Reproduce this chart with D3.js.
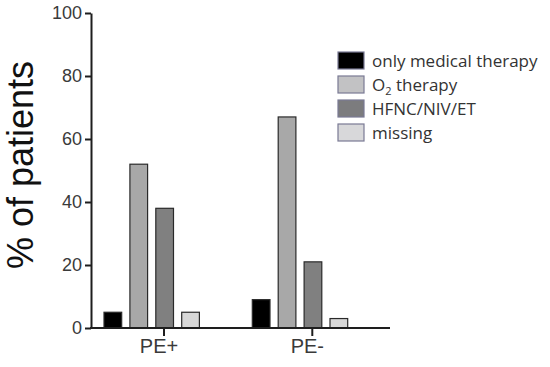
<!doctype html>
<html lang="en">
<head>
  <meta charset="utf-8">
  <title>% of patients</title>
  <script src="https://d3js.org/d3.v7.min.js"></script>
  <style>
    body { margin: 0; background: #fff; }
  </style>
</head>
<body>
  <svg width="550" height="367"></svg>
  <script>
    var groups = ["PE+", "PE-"];
    var series = ["only medical therapy", "O2 therapy", "HFNC/NIV/ET", "missing"];
    var pePlus = [5, 52, 38, 5];
    var peMinus = [9, 67, 21, 3];
    var yTicks = [0, 20, 40, 60, 80, 100];
    var colors = ["#000000", "#a8a8a8", "#808080", "#d8d8d8"];
    var legendFill = ["#000000", "#c2c2c4", "#7c7c7e", "#d8d8da"];

    var values = [pePlus, peMinus];

    var svg = d3.select("svg");
    var axisColor = "#1e1e1e";

    var y = d3.scaleLinear().domain([0, 100]).range([328, 13]);
    var x0 = d3.scaleBand().domain(groups).range([96, 392.6]);
    var x1 = d3.scaleBand().domain(series).range([3.9, 107.5])
        .paddingInner(0.317).paddingOuter(0.1585);

    // bars
    var g = svg.append("g");
    groups.forEach(function(grp, gi) {
      g.append("g")
          .attr("transform", "translate(" + x0(grp) + ",0)")
        .selectAll("rect")
        .data(values[gi])
        .enter().append("rect")
          .attr("x", function(d, i) { return x1(series[i]); })
          .attr("y", function(d) { return y(d); })
          .attr("width", x1.bandwidth())
          .attr("height", function(d) { return y(0) - y(d); })
          .attr("fill", function(d, i) { return colors[i]; })
          .attr("stroke", "#2a2a2a")
          .attr("stroke-width", 1.2);
    });

    // y axis
    var yAxis = svg.append("g")
        .attr("transform", "translate(91,0)")
        .call(d3.axisLeft(y).tickValues(yTicks).tickSize(6).tickPadding(3).tickSizeOuter(0));
    yAxis.select(".domain").attr("stroke", axisColor).attr("stroke-width", 2);
    yAxis.selectAll(".tick line").attr("stroke", axisColor).attr("stroke-width", 2);
    yAxis.selectAll(".tick text")
        .attr("fill", "#3a3a3a")
        .style("font-family", "'Liberation Sans', Arial, sans-serif")
        .style("font-size", "18px");

    // x axis line
    svg.append("line")
        .attr("x1", 90).attr("x2", 390)
        .attr("y1", y(0)).attr("y2", y(0))
        .attr("stroke", axisColor).attr("stroke-width", 2);

    // ticks sit a bit right of the group centre, like the original
    var xTick = x0.copy().range([96 + 68, 392.6 + 68]);
    var xAxis = svg.append("g")
        .attr("transform", "translate(" + (-x0.bandwidth() / 2) + "," + y(0) + ")")
        .call(d3.axisBottom(xTick).tickSize(8).tickPadding(3).tickSizeOuter(0));
    xAxis.select(".domain").remove();
    xAxis.selectAll(".tick line").attr("stroke", axisColor).attr("stroke-width", 2);
    xAxis.selectAll(".tick text")
        .attr("x", -5)
        .attr("fill", "#3a3a3a")
        .style("font-family", "'Liberation Sans', Arial, sans-serif")
        .style("font-size", "20px");

    // y title
    svg.append("text")
        .attr("transform", "translate(33,165) rotate(-90)")
        .attr("text-anchor", "middle")
        .attr("fill", "#111")
        .style("font-family", "'Liberation Sans', Arial, sans-serif")
        .style("font-size", "36px")
        .text("% of patients");

    // legend
    var legend = svg.append("g").attr("transform", "translate(338,52)");
    var rows = legend.selectAll("g")
        .data(series)
        .enter().append("g")
          .attr("transform", function(d, i) { return "translate(0," + (i * 24) + ")"; });
    rows.append("rect")
        .attr("width", 26)
        .attr("height", 17)
        .attr("fill", function(d, i) { return legendFill[i]; })
        .attr("stroke", "#7a7a94")
        .attr("stroke-width", 1.2);
    var lt = rows.append("text")
        .attr("x", 34)
        .attr("y", 14.5)
        .attr("fill", "#333")
        .style("font-family", "'Open Sans', sans-serif")
        .style("font-size", "17px");
    lt.each(function(d) {
      var t = d3.select(this);
      if (d === "O2 therapy") {
        t.append("tspan").text("O");
        t.append("tspan").attr("dy", 4).style("font-size", "11px").text("2");
        t.append("tspan").attr("dy", -4).text(" therapy");
      } else {
        t.text(d);
      }
    });
  </script>
</body>
</html>
